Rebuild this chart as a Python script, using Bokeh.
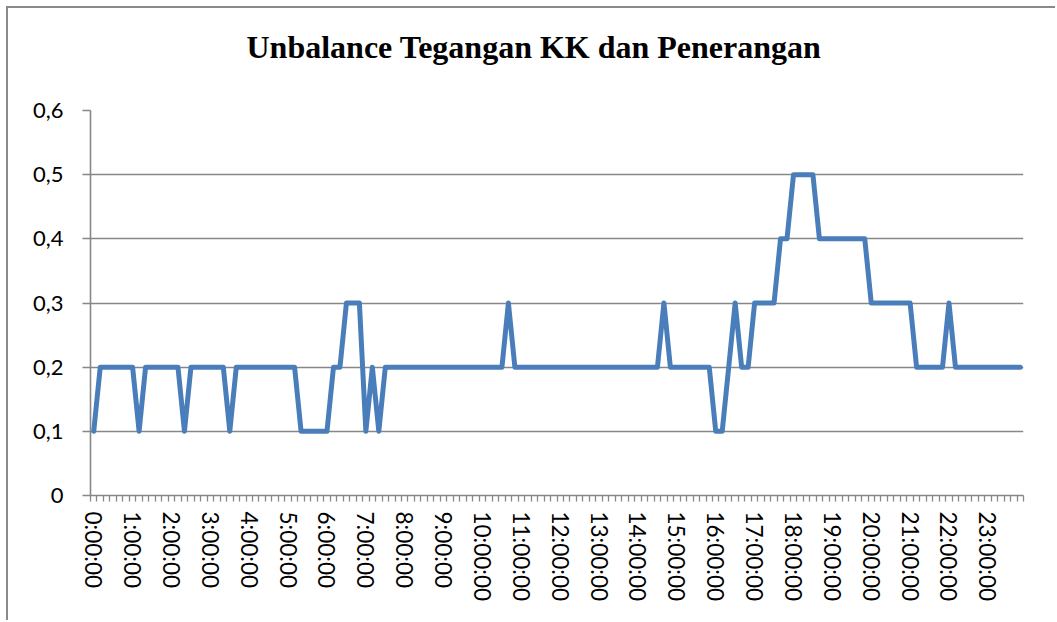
from bokeh.plotting import figure
from bokeh.models import FixedTicker, ColumnDataSource, Range1d, Label
from bokeh.embed import file_html
from bokeh.resources import INLINE

title_text = "Unbalance Tegangan KK dan Penerangan"

# 10-minute samples, 0:00:00 .. 23:50:00
time_labels = ["%d:%02d:00" % (h, m) for h in range(24) for m in range(0, 60, 10)]

values = [
    0.1, 0.2, 0.2, 0.2, 0.2, 0.2, 0.2, 0.1, 0.2, 0.2, 0.2, 0.2,
    0.2, 0.2, 0.1, 0.2, 0.2, 0.2, 0.2, 0.2, 0.2, 0.1, 0.2, 0.2,
    0.2, 0.2, 0.2, 0.2, 0.2, 0.2, 0.2, 0.2, 0.1, 0.1, 0.1, 0.1,
    0.1, 0.2, 0.2, 0.3, 0.3, 0.3, 0.1, 0.2, 0.1, 0.2, 0.2, 0.2,
    0.2, 0.2, 0.2, 0.2, 0.2, 0.2, 0.2, 0.2, 0.2, 0.2, 0.2, 0.2,
    0.2, 0.2, 0.2, 0.2, 0.3, 0.2, 0.2, 0.2, 0.2, 0.2, 0.2, 0.2,
    0.2, 0.2, 0.2, 0.2, 0.2, 0.2, 0.2, 0.2, 0.2, 0.2, 0.2, 0.2,
    0.2, 0.2, 0.2, 0.2, 0.3, 0.2, 0.2, 0.2, 0.2, 0.2, 0.2, 0.2,
    0.1, 0.1, 0.2, 0.3, 0.2, 0.2, 0.3, 0.3, 0.3, 0.3, 0.4, 0.4,
    0.5, 0.5, 0.5, 0.5, 0.4, 0.4, 0.4, 0.4, 0.4, 0.4, 0.4, 0.4,
    0.3, 0.3, 0.3, 0.3, 0.3, 0.3, 0.3, 0.2, 0.2, 0.2, 0.2, 0.2,
    0.3, 0.2, 0.2, 0.2, 0.2, 0.2, 0.2, 0.2, 0.2, 0.2, 0.2, 0.2,
]

y_ticks = [0, 0.1, 0.2, 0.3, 0.4, 0.5, 0.6]
y_tick_labels = ["0", "0,1", "0,2", "0,3", "0,4", "0,5", "0,6"]

idx = list(range(len(time_labels)))
src = ColumnDataSource(dict(x=idx, y=values, t=time_labels))

GRAY = "#878787"
TICK_FONT = "Lato"

p = figure(width=1049, height=614, output_backend="svg", toolbar_location=None,
           x_range=Range1d(-0.5, len(time_labels) - 0.5), y_range=Range1d(0, 0.6),
           min_border_left=82, min_border_right=34, min_border_top=102, min_border_bottom=127)
p.styles = {"margin-left": "6px", "margin-top": "6px",
            "border-left": "2px solid #8a8a8a", "border-top": "2px solid #8a8a8a"}

# chart title in the area above the plot frame
p.add_layout(Label(x=156, y=64, x_units="screen", y_units="screen", text=title_text,
                   text_font="Liberation Serif", text_font_size="32px", text_font_style="bold",
                   text_color="black", text_align="left", text_baseline="alphabetic"), "above")

p.line("x", "y", source=src, line_color="#4A7EBB", line_width=5,
       line_join="round", line_cap="round")

p.outline_line_color = None
p.xgrid.grid_line_color = None
p.ygrid.grid_line_color = GRAY
p.ygrid.grid_line_width = 1.6
p.ygrid.ticker = FixedTicker(ticks=y_ticks[1:])

# x axis
hour_idx = [i for i, t in enumerate(time_labels) if t.endswith(":00:00")]
p.xaxis.ticker = FixedTicker(ticks=hour_idx, minor_ticks=[i - 0.5 for i in range(len(time_labels) + 1)])
p.xaxis.major_label_overrides = {i: time_labels[i] for i in hour_idx}
p.xaxis.major_label_orientation = "vertical"
p.xaxis.major_tick_line_color = None
p.xaxis.major_tick_out = 0
p.xaxis.major_tick_in = 0
p.xaxis.minor_tick_line_color = GRAY
p.xaxis.minor_tick_line_width = 1.3
p.xaxis.minor_tick_out = 6
p.xaxis.minor_tick_in = 0
p.xaxis.major_label_standoff = 10
p.xaxis.axis_line_color = GRAY
p.xaxis.axis_line_width = 1.6
p.xaxis.major_label_text_font = TICK_FONT
p.xaxis.major_label_text_font_size = "22.5px"
p.xaxis.major_label_text_color = "black"

# y axis
p.yaxis.ticker = FixedTicker(ticks=y_ticks)
p.yaxis.major_label_overrides = {v: s for v, s in zip(y_ticks, y_tick_labels)}
p.yaxis.major_tick_line_color = GRAY
p.yaxis.major_tick_line_width = 1.6
p.yaxis.major_tick_out = 8
p.yaxis.major_tick_in = 0
p.yaxis.minor_tick_line_color = None
p.yaxis.axis_line_color = GRAY
p.yaxis.axis_line_width = 1.6
p.yaxis.major_label_standoff = 19
p.yaxis.major_label_text_font = TICK_FONT
p.yaxis.major_label_text_font_size = "22px"
p.yaxis.major_label_text_color = "black"

open("out.html", "w").write(file_html(p, INLINE))
